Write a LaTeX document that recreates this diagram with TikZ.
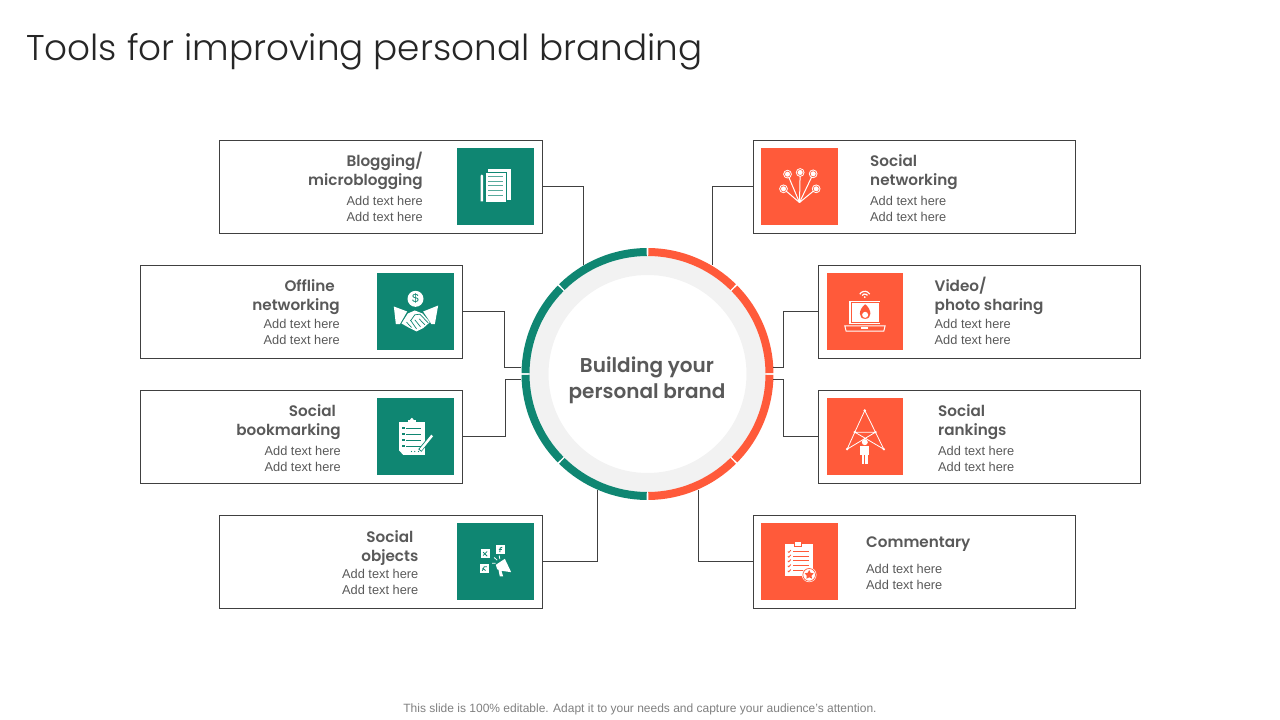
\documentclass[tikz,border=0pt]{standalone}
\usepackage{fontspec}
\usetikzlibrary{shapes.geometric}
\setmainfont{Liberation Sans}
\newfontfamily\titlefont{Poppins}[UprightFont=* Light]
\newfontfamily\headfont{Poppins}[UprightFont=* SemiBold]
\definecolor{tealc}{HTML}{0F8672}
\definecolor{orangec}{HTML}{FF5A3A}
\definecolor{darktext}{HTML}{595959}
\definecolor{ringgrey}{HTML}{F2F2F2}
\definecolor{edgegrey}{HTML}{404040}
\tikzset{
    cardbox/.style={draw=edgegrey,line width=.9pt,minimum width=322.5pt,minimum height=93pt,outer sep=0pt,inner sep=0pt},
    iconbox/.style={minimum size=77pt,outer sep=0pt,inner sep=0pt},
    headtext/.style={font=\headfont\fontsize{15.2}{19}\selectfont,text=darktext,inner sep=0pt},
    subtext/.style={font=\fontsize{12.8}{16}\selectfont,text=darktext,inner sep=0pt},
    link/.style={draw=edgegrey,line width=.8pt},
    leftgrid/.style={shift={(#1.center)},x=.3333pt,y=-.3333pt,shift={(-137,-140)}},
    rightgrid/.style={shift={(#1.center)},x=.3333pt,y=-.3333pt,shift={(-133,-140)}}
}

\begin{document}
\begin{tikzpicture}[x=1pt,y=1pt]
    \useasboundingbox (0,0) rectangle (1280,720);
    \node[anchor=west,font=\titlefont\fontsize{35.8}{40}\selectfont,text=black!85,inner sep=0pt] (slidetitle) at (26,668.5) {Tools for improving personal branding};
    % ring in the middle
    \node[circle,draw=ringgrey,line width=19pt,minimum size=217pt,outer sep=0pt,inner sep=0pt] (hub) at (647.5,346) {};
    \node[align=center,font=\headfont\fontsize{20}{26}\selectfont,text=darktext,inner sep=0pt] (hubtext) at (647,340) {Building your\\personal brand};
    \foreach \from/\to/\col in {90.4/134.6/tealc,135.4/179.6/tealc,180.4/224.6/tealc,225.4/269.6/tealc,270.4/314.6/orangec,315.4/359.6/orangec,0.4/44.6/orangec,45.4/89.6/orangec}
        \draw[\col,line width=8pt] ([shift={(\from:122)}]hub.center) arc (\from:\to:122);
    % cards
    \node[cardbox,minimum width=323pt] (blogcard) at (381,533) {};
    \node[cardbox] (offcard) at (301.2,408) {};
    \node[cardbox] (bookcard) at (301.2,283) {};
    \node[cardbox,minimum width=323pt] (objcard) at (381,158) {};
    \node[cardbox] (netcard) at (914.2,533) {};
    \node[cardbox] (vidcard) at (979.2,408) {};
    \node[cardbox] (rankcard) at (979.2,283) {};
    \node[cardbox] (comcard) at (914.2,158) {};
    % icon squares
    \node[iconbox,fill=tealc] (blogicon) at (495.5,533.5) {};
    \node[iconbox,fill=tealc] (officon) at (415.5,408.5) {};
    \node[iconbox,fill=tealc] (bookicon) at (415.5,283.5) {};
    \node[iconbox,fill=tealc] (objicon) at (495.5,158.5) {};
    \node[iconbox,fill=orangec] (neticon) at (799.5,533.5) {};
    \node[iconbox,fill=orangec,minimum size=76.5pt] (vidicon) at (864.8,408.5) {};
    \node[iconbox,fill=orangec,minimum size=76.5pt] (rankicon) at (864.8,283.5) {};
    \node[iconbox,fill=orangec] (comicon) at (799.5,158.5) {};
    % card texts
    \node[headtext,anchor=east,align=right] (bloghead) at (423,549.5) {Blogging/\\microblogging};
    \node[subtext,anchor=east,align=right] (blogsub) at (423,511) {Add text here\\Add text here};
    \node[headtext,anchor=east,align=right] (offhead) at (340,422.5) {Offline\hspace{5pt}\null\\networking};
    \node[subtext,anchor=east,align=right] (offsub) at (340,388) {Add text here\\Add text here};
    \node[headtext,anchor=east,align=right] (bookhead) at (341,297.5) {Social\hspace{5pt}\null\\bookmarking};
    \node[subtext,anchor=east,align=right] (booksub) at (341,261) {Add text here\\Add text here};
    \node[headtext,anchor=east,align=right] (objhead) at (418.5,171.5) {Social\hspace{5pt}\null\\objects};
    \node[subtext,anchor=east,align=right] (objsub) at (418.5,138) {Add text here\\Add text here};
    \node[headtext,anchor=west,align=left] (nethead) at (870,547.5) {Social\\networking};
    \node[subtext,anchor=west,align=left] (netsub) at (870,511) {Add text here\\Add text here};
    \node[headtext,anchor=west,align=left] (vidhead) at (934.5,424.5) {Video/\\photo sharing};
    \node[subtext,anchor=west,align=left] (vidsub) at (934.5,388) {Add text here\\Add text here};
    \node[headtext,anchor=west,align=left] (rankhead) at (938,297.5) {Social\\rankings};
    \node[subtext,anchor=west,align=left] (ranksub) at (938,261) {Add text here\\Add text here};
    \node[headtext,anchor=west] (comhead) at (866,176) {Commentary};
    \node[subtext,anchor=west,align=left] (comsub) at (866,143) {Add text here\\Add text here};
    \node[font=\fontsize{12}{14}\selectfont,text=black!50,inner sep=0pt] (slidenote) at (640,10.5) {This slide is 100\% editable. Adapt it to your needs and capture your audience's attention.};
    % connectors
    \coordinate (blogend) at (583,455);
    \coordinate (offend) at (521,353);
    \coordinate (bookend) at (521,341);
    \coordinate (objend) at (597,230);
    \coordinate (netend) at (712,455);
    \coordinate (vidend) at (773,353);
    \coordinate (rankend) at (773,341);
    \coordinate (comend) at (698,230);
    \draw[link] ([yshift=1pt]blogcard.east) -| (blogend);
    \draw[link] ([yshift=1pt]offcard.east) -- ++(41.5,0) |- (offend);
    \draw[link] ([yshift=1pt]bookcard.east) -- ++(42.5,0) |- (bookend);
    \draw[link] ([yshift=1pt]objcard.east) -| (objend);
    \draw[link] ([yshift=1pt]netcard.west) -| (netend);
    \draw[link] ([yshift=1pt]vidcard.west) -- ++(-35,0) |- (vidend);
    \draw[link] ([yshift=1pt]rankcard.west) -- ++(-35,0) |- (rankend);
    \draw[link] ([yshift=1pt]comcard.west) -| (comend);
    % papers and pen
    \begin{scope}[leftgrid=blogicon]
        \fill[white] (115,88) rectangle (183,180);
        \filldraw[fill=white,draw=tealc,line width=.6pt] (105,97) rectangle (170,188);
        \foreach \y in {110,124,138,152,166}
            \draw[tealc!70,line width=.8pt] (115,\y) -- (160,\y);
        \fill[white] (92,108) -- (96,104) -- (100,108) -- (100,185) -- (92,185) -- cycle;
    \end{scope}
    % handshake and coin
    \begin{scope}[leftgrid=officon]
        \fill[white] (137,102) circle (24);
        \node[text=tealc,font=\fontsize{12}{12}\selectfont,inner sep=0pt] (dollarsign) at (137,102) {\$};
        \fill[white] (72,125) -- (112,140) -- (90,178) -- (78,178) -- cycle;
        \fill[white] (205,122) -- (195,178) -- (185,178) -- (160,140) -- cycle;
        \fill[white] (114,146) -- (135,137) -- (158,146) -- (180,172) -- (160,190) -- (140,200) -- (120,190) -- (95,176) -- cycle;
        \draw[tealc,line width=.7pt] (122,168) -- (135,150) -- (150,148) -- (175,174);
        \draw[tealc,line width=.7pt] (110,172) -- (125,188) (122,166) -- (140,192) (135,165) -- (152,186) (148,162) -- (165,180);
    \end{scope}
    % checklist and pencil
    \begin{scope}[leftgrid=bookicon]
        \fill[white] (88,97) -- (165,97) -- (165,195) -- (100,195) -- (88,182) -- cycle;
        \fill[white] (115,90) rectangle (138,100);
        \fill[white] (126,89) circle (5);
        \foreach \y in {115,133,151,169}{
            \fill[tealc] (97,\y-3) rectangle (105,\y+3);
            \draw[tealc,line width=.7pt] (109,\y) -- (153,\y);
        }
        \foreach \x in {125,135,146}
            \fill[tealc] (\x,185) circle (1.8);
        \draw[tealc,line width=4pt] (150,182) -- (187,137);
        \draw[white,line width=2.4pt] (152,180) -- (187,137);
    \end{scope}
    % tiles and megaphone
    \begin{scope}[leftgrid=objicon]
        \fill[white] (93,103) rectangle (120,130);
        \fill[white] (138,90) rectangle (166,118);
        \fill[white] (90,148) rectangle (117,176);
        \draw[tealc,line width=.8pt] (100,122) -- (112,110) (100,112) -- (112,124);
        \draw[tealc,line width=.9pt] (150,112) -- (151,100) -- (157,97) (147,104) -- (156,104);
        \draw[tealc,line width=.8pt] (97,168) -- (103,156) -- (111,156) (98,160) -- (107,167);
        \fill[white] (138,150) -- (165,132) -- (184,172) -- (155,168) -- (160,185) -- (150,185) -- (146,165) -- (142,163) -- cycle;
        \draw[white,line width=.8pt] (133,128) -- (142,136) (148,122) -- (150,133) (127,145) -- (137,145);
    \end{scope}
    % fan of circles
    \begin{scope}[rightgrid=neticon]
        \foreach \x/\y in {97/103,135/98,174/102,85/147,183/147}{
            \draw[white,line width=1pt] (133,188) -- (\x,\y);
            \fill[white] (\x,\y) circle (13);
            \draw[orangec,line width=.6pt] (\x,\y) circle (9);
        }
    \end{scope}
    % laptop
    \begin{scope}[rightgrid=vidicon]
        \draw[white,line width=1.2pt] (118,88) arc (210:330:17.3);
        \draw[white,line width=1.2pt] (125,92) arc (210:330:9.2);
        \fill[white] (133,97) circle (3);
        \fill[white] (87,108) rectangle (180,178);
        \draw[orangec,line width=.4pt] (92,113) rectangle (175,173);
        \fill[orangec] (134,118) .. controls (155,135) and (155,162) .. (134,162) .. controls (113,162) and (113,135) .. (134,118);
        \fill[white] (134,150) circle (9);
        \draw[white,line width=1pt] (73,183) -- (194,183) -- (190,199) -- (77,199) -- cycle;
        \fill[white] (123,186) rectangle (143,193);
    \end{scope}
    % person under a net
    \begin{scope}[rightgrid=rankicon]
        \draw[white,line width=.8pt] (80,178) -- (103,127) -- (133,62) -- (165,127) -- (190,178) -- (103,127) -- (165,127) -- (80,178);
        \foreach \x/\y in {133/62,103/127,165/127,80/178,190/178}
            \fill[white] (\x,\y) circle (4);
        \fill[white] (133,157) circle (9);
        \fill[white] (120,170) rectangle (147,195);
        \fill[white] (125,195) rectangle (132,222);
        \fill[white] (135,195) rectangle (142,222);
    \end{scope}
    % clipboard with star
    \begin{scope}[rightgrid=comicon]
        \fill[white] (90,87) rectangle (172,185);
        \filldraw[fill=white,draw=orangec,line width=.5pt] (118,80) rectangle (138,95);
        \foreach \y in {110,124,138,153,168}{
            \draw[orangec,line width=.8pt] (98,\y) -- (101,\y+3) -- (107,\y-4);
            \draw[orangec,line width=.8pt] (114,\y) -- (160,\y);
        }
        \fill[white] (162,180) circle (22);
        \draw[orangec,line width=.7pt] (162,180) circle (19);
        \node[star,star points=5,star point ratio=1.9,fill=orangec,minimum size=9.5pt,inner sep=0pt] (comstar) at (162,180) {};
    \end{scope}
\end{tikzpicture}
\end{document}
